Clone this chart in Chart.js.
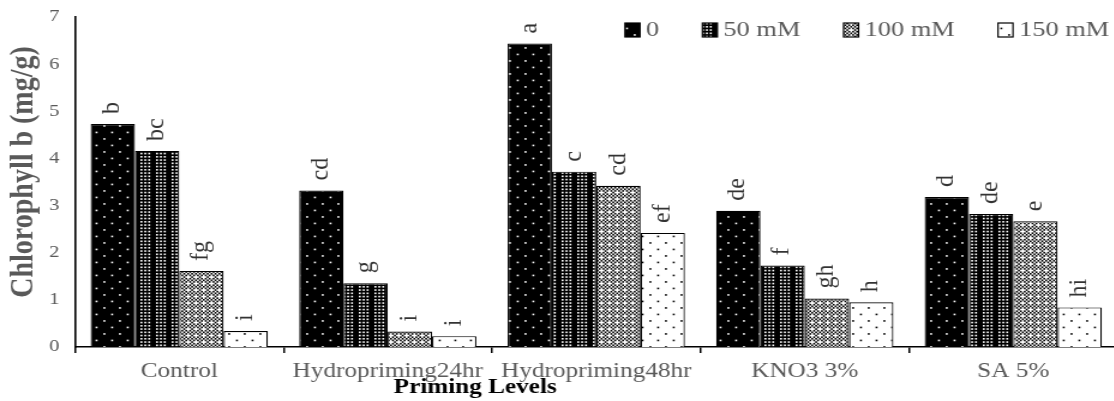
<!DOCTYPE html>
<html>
<head>
<meta charset="utf-8">
<script src="https://cdn.jsdelivr.net/npm/chart.js@4.4.1/dist/chart.umd.min.js"></script>
<style>
  html, body { margin: 0; padding: 0; background: #fff; overflow: hidden; }
  #wrap { position: relative; width: 1114px; height: 401px; overflow: hidden; }
  #c { position: absolute; left: 0; top: 0; transform: scaleX(1.2); transform-origin: 0 0; }
</style>
</head>
<body>
<div id="wrap"><canvas id="c" width="936" height="401"></canvas></div>
<script>
// Chlorophyll b under four salt levels for each seed priming treatment
const categories = ['Control', 'Hydropriming24hr', 'Hydropriming48hr', 'KNO3 3%', 'SA 5%'];
const seriesNames = ['0', '50 mM', '100 mM', '150 mM'];
const salt0   = [4.73, 3.32, 6.44, 2.89, 3.18];
const salt50  = [4.16, 1.35, 3.72, 1.73, 2.82];
const salt100 = [1.61, 0.33, 3.42, 1.03, 2.67];
const salt150 = [0.34, 0.23, 2.42, 0.95, 0.84];
// Duncan grouping letters shown above each bar
const letters0   = ['b', 'cd', 'a', 'de', 'd'];
const letters50  = ['bc', 'g', 'c', 'f', 'de'];
const letters100 = ['fg', 'i', 'cd', 'gh', 'e'];
const letters150 = ['i', 'i', 'ef', 'h', 'hi'];
const yTicks = [0, 1, 2, 3, 4, 5, 6, 7];

const SX = 1.2;                 // horizontal stretch applied by CSS
const SERIF = '"Liberation Serif", "Times New Roman", serif';
const GREY = '#595959';

const canvas = document.getElementById('c');
const ctx = canvas.getContext('2d');

// 8x8 fill patterns, each pixel drawn at 1.625 px
function makePattern(bg, fg, test) {
  const t = document.createElement('canvas');
  t.width = 13; t.height = 13;
  const g = t.getContext('2d');
  g.fillStyle = bg; g.fillRect(0, 0, 13, 13);
  g.fillStyle = fg;
  const k = 13 / 8;
  for (let y = 0; y < 8; y++) {
    for (let x = 0; x < 8; x++) {
      if (test(x, y)) g.fillRect(x * k, y * k, k, k);
    }
  }
  return ctx.createPattern(t, 'repeat');
}
const mod4 = (n) => ((n % 4) + 4) % 4;
const fills = [
  makePattern('#000', '#fff', (x, y) => (x === 1 && y === 1) || (x === 5 && y === 5)),
  makePattern('#000', '#fff', (x, y) => (x === 0 || x === 2 || x === 4) && y % 2 === 0),
  makePattern('#fff', '#000', (x, y) => mod4(x + y) === 0 || mod4(x - y) === 0 ||
                                        (x % 4 === 2 && y % 4 === 0)),
  makePattern('#fff', '#000', (x, y) => (x === 1 && y === 1) || (x === 5 && y === 5))
];
const seriesValues = [salt0, salt50, salt100, salt150];
const seriesLetters = [letters0, letters50, letters100, letters150];

const extras = {
  id: 'extras',
  afterDatasetsDraw(chart) {
    const c = chart.ctx;
    // grouping letters, rotated, kept at natural proportions
    c.save();
    c.fillStyle = '#333';
    c.font = '24px ' + SERIF;
    c.textAlign = 'left';
    c.textBaseline = 'middle';
    seriesLetters.forEach((letters, i) => {
      chart.getDatasetMeta(i).data.forEach((bar, j) => {
        c.save();
        c.translate(bar.x, bar.y - 10);
        c.scale(1 / SX, 1);
        c.rotate(-Math.PI / 2);
        c.fillText(letters[j], 0, 0);
        c.restore();
      });
    });
    c.restore();

    // legend row
    c.save();
    c.font = '22px ' + SERIF;
    c.textBaseline = 'middle';
    c.textAlign = 'left';
    let x = 520.8;
    const boxW = 12.5, boxH = 14, cy = 30;
    seriesNames.forEach((name, i) => {
      c.fillStyle = fills[i];
      c.fillRect(x, cy - boxH / 2, boxW, boxH);
      c.strokeStyle = '#000';
      c.lineWidth = 1.2;
      c.strokeRect(x, cy - boxH / 2, boxW, boxH);
      c.fillStyle = GREY;
      c.fillText(name, x + boxW + 5, cy);
      x += boxW + 5 + c.measureText(name).width + 36;
    });
    c.restore();

    // axis titles
    c.save();
    c.textAlign = 'center';
    c.textBaseline = 'middle';
    c.font = 'bold 21px ' + SERIF;
    c.fillStyle = '#000';
    c.fillText('Priming Levels', 396, 388);
    c.font = 'bold 28px ' + SERIF;
    c.fillStyle = GREY;
    c.translate(19.5, 172);
    c.rotate(-Math.PI / 2);
    c.fillText('Chlorophyll b (mg/g)', 0, 0);
    c.restore();
  }
};

new Chart(ctx, {
  type: 'bar',
  data: {
    labels: categories,
    datasets: seriesNames.map((name, i) => ({
      label: name,
      data: seriesValues[i],
      backgroundColor: fills[i],
      borderColor: '#000',
      borderWidth: 1.2,
      categoryPercentage: 0.85,
      barPercentage: 1.0
    }))
  },
  options: {
    responsive: false,
    animation: false,
    devicePixelRatio: 1,
    layout: { padding: { top: 17, right: 4.75, bottom: 0, left: 0 } },
    plugins: { legend: { display: false }, tooltip: { enabled: false } },
    scales: {
      x: {
        afterFit: (s) => { s.height = 54; },
        grid: { display: true, drawOnChartArea: false, drawTicks: true, tickLength: 6, color: '#000', lineWidth: 1.5, offset: true },
        border: { display: true, color: '#000', width: 1.6 },
        ticks: { color: GREY, font: { family: SERIF, size: 21 }, padding: 6, maxRotation: 0, autoSkip: false }
      },
      y: {
        min: 0, max: 7,
        afterFit: (s) => { s.width = 62.5; },
        afterBuildTicks: (s) => { s.ticks = yTicks.map(v => ({ value: v })); },
        grid: { display: false, drawTicks: false },
        border: { display: true, color: '#000', width: 1.6 },
        ticks: { color: GREY, font: { family: SERIF, size: 17, lineHeight: 0.4 }, padding: 13 }
      }
    }
  },
  plugins: [extras]
});
</script>
</body>
</html>
